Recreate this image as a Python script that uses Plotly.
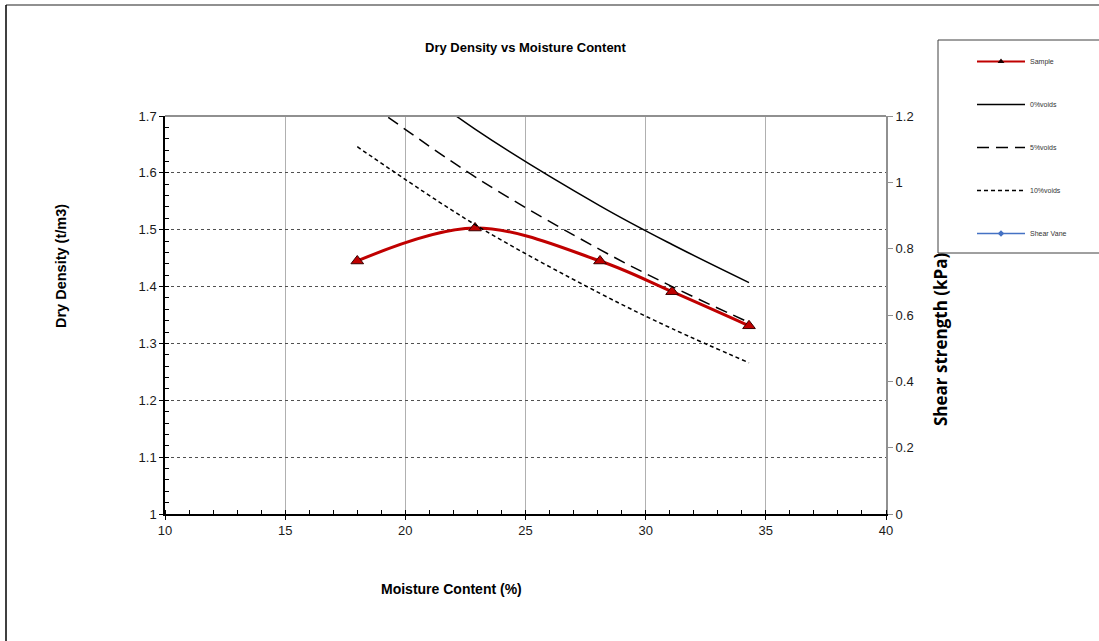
import plotly.graph_objects as go

# ---- data ----
moisture = [18.0, 22.9, 28.1, 31.1, 34.3]
sample_density = [1.445, 1.503, 1.445, 1.391, 1.331]
voids0 = [1.830, 1.677, 1.542, 1.474, 1.407]
voids5 = [1.737, 1.593, 1.465, 1.400, 1.337]
voids10 = [1.646, 1.509, 1.388, 1.326, 1.266]
shear_moisture = [None]
shear_strength = [None]

x_ticks = [10, 15, 20, 25, 30, 35, 40]
y_ticks = [1, 1.1, 1.2, 1.3, 1.4, 1.5, 1.6, 1.7]
y_labels = ["1", "1.1", "1.2", "1.3", "1.4", "1.5", "1.6", "1.7"]
y2_ticks = [0, 0.2, 0.4, 0.6, 0.8, 1, 1.2]
y2_labels = ["0", "0.2", "0.4", "0.6", "0.8", "1", "1.2"]

FONT = "Arial, Liberation Sans, sans-serif"
W, H = 1099, 641
L, R, T, B = 165, 886, 116, 514   # plot area in pixels
PW, PH = R - L, B - T


def px(x):
    return (x - L) / PW


def py(y):
    return (B - y) / PH


fig = go.Figure()

# Sample curve (drawn), legend entry supplied by a data-less twin with a small marker
fig.add_trace(go.Scatter(
    x=moisture, y=sample_density, name="Sample", legendgroup="a", showlegend=False,
    mode="lines+markers",
    line=dict(color="#c00000", width=3, shape="spline", smoothing=1),
    marker=dict(symbol="triangle-up", size=11, color="#c00000",
                line=dict(color="#3a0000", width=1)),
))
fig.add_trace(go.Scatter(
    x=[None], y=[None], name="Sample", legendgroup="a", mode="lines+markers",
    line=dict(color="#c00000", width=2),
    marker=dict(symbol="triangle-up", size=6, color="#1a0000"),
))
fig.add_trace(go.Scatter(
    x=moisture, y=voids0, name="0%voids", legendgroup="b", mode="lines",
    line=dict(color="black", width=1.5, shape="spline", smoothing=1),
))
fig.add_trace(go.Scatter(
    x=moisture, y=voids5, name="5%voids", legendgroup="c", mode="lines",
    line=dict(color="black", width=1.5, dash="12px,7px", shape="spline", smoothing=1),
))
fig.add_trace(go.Scatter(
    x=moisture, y=voids10, name="10%voids", legendgroup="d", mode="lines",
    line=dict(color="black", width=1.5, dash="4px,3px", shape="spline", smoothing=1),
))
fig.add_trace(go.Scatter(
    x=shear_moisture, y=shear_strength, name="Shear Vane", legendgroup="e",
    mode="lines+markers", yaxis="y2",
    line=dict(color="#4472c4", width=1.5),
    marker=dict(symbol="diamond", size=5, color="#4472c4"),
))

fig.update_layout(
    width=W, height=H,
    margin=dict(l=L, r=W - R, t=T, b=H - B, autoexpand=False),
    paper_bgcolor="white", plot_bgcolor="white",
    font=dict(family=FONT, color="black"),
    title=dict(text="<b>Dry Density vs Moisture Content</b>", x=0.5, xref="paper",
               y=1 - 47 / H, yanchor="middle", xanchor="center",
               font=dict(size=13, family=FONT, color="black")),
    xaxis=dict(
        range=[10, 40], tickvals=x_ticks, showgrid=True, gridcolor="#b0b0b0", gridwidth=1,
        showline=True, linecolor="black", linewidth=1.5, zeroline=False,
        ticks="outside", ticklen=4, tickcolor="black", tickwidth=1,
        minor=dict(dtick=1, ticks="inside", ticklen=4, tickcolor="black", showgrid=False),
        tickfont=dict(size=13, family=FONT, color="#1a1a1a"),
        automargin=False,
    ),
    yaxis=dict(
        range=[1, 1.7], tickvals=y_ticks, ticktext=y_labels,
        showgrid=True, gridcolor="#505050", gridwidth=1, griddash="dot",
        showline=True, linecolor="black", linewidth=1.5, zeroline=False,
        ticks="outside", ticklen=4, tickcolor="black",
        minor=dict(dtick=0.02, ticks="inside", ticklen=4, tickcolor="black", showgrid=False),
        tickfont=dict(size=13, family=FONT, color="#1a1a1a"),
        automargin=False,
    ),
    yaxis2=dict(
        overlaying="y", side="right", range=[0, 1.2], tickvals=y2_ticks, ticktext=y2_labels,
        showgrid=False, zeroline=False, showline=True, linecolor="#909090", linewidth=2,
        ticks="outside", ticklen=5, tickcolor="#909090",
        tickfont=dict(size=13, family=FONT, color="#1a1a1a"),
        automargin=False,
    ),
    legend=dict(
        x=px(972), xanchor="left", y=py(47), yanchor="top",
        bgcolor="rgba(0,0,0,0)", borderwidth=0,
        font=dict(size=7, family=FONT, color="#333"),
        tracegroupgap=24, itemwidth=48,
    ),
    showlegend=True,
    annotations=[
        dict(text="<b>Moisture Content (%)</b>", xref="paper", yref="paper",
             x=px(451), y=py(589), xanchor="center", yanchor="middle", showarrow=False,
             font=dict(size=14, family=FONT, color="black")),
        dict(text="<b>Dry Density (t/m3)</b>", xref="paper", yref="paper",
             x=px(61), y=py(266), xanchor="center", yanchor="middle", showarrow=False,
             textangle=-90, font=dict(size=14.5, family=FONT, color="black")),
        dict(text="<b>Shear strength (kPa)</b>", xref="paper", yref="paper",
             x=px(940), y=py(339), xanchor="center", yanchor="middle", showarrow=False,
             textangle=-90,
             font=dict(size=17, family="Open Sans, Noto Sans, sans-serif", color="black")),
    ],
    shapes=[
        # legend frame
        dict(type="rect", xref="paper", yref="paper",
             x0=px(938), x1=px(1110), y0=py(253), y1=py(40),
             line=dict(color="#404040", width=1), fillcolor="rgba(0,0,0,0)", layer="below"),
        # top border of plot area
        dict(type="line", xref="paper", yref="paper", x0=0, x1=1, y0=1, y1=1,
             line=dict(color="#909090", width=2)),
        # chart outer border (top and left visible)
        dict(type="line", xref="paper", yref="paper",
             x0=px(6), x1=px(1110), y0=py(5), y1=py(5),
             line=dict(color="#909090", width=2)),
        dict(type="line", xref="paper", yref="paper",
             x0=px(6), x1=px(6), y0=py(5), y1=py(660),
             line=dict(color="black", width=1.5)),
    ],
)

fig.write_html("out.html", config={"displayModeBar": False},
               post_script="document.body.style.margin='0';document.body.style.overflow='hidden';")
